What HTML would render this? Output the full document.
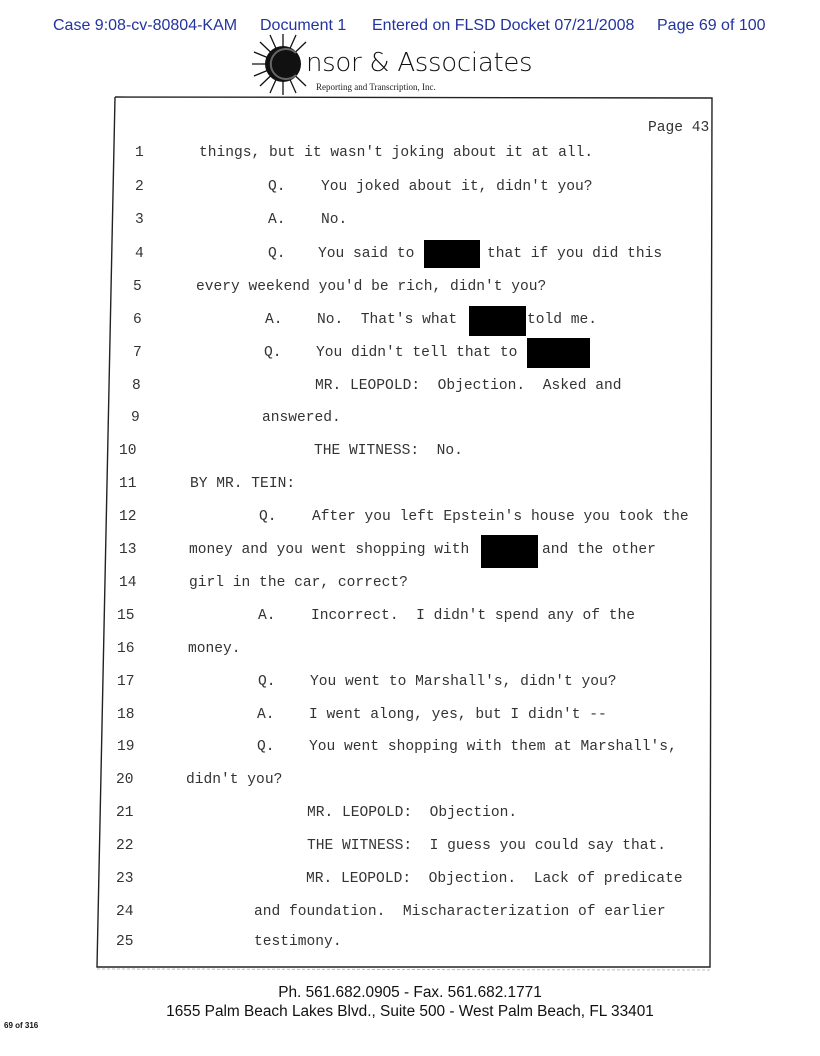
<!DOCTYPE html>
<html><head><meta charset="utf-8"><style>
html,body{margin:0;padding:0;background:#fff;}
body{width:820px;height:1056px;position:relative;overflow:hidden;font-family:"Liberation Sans",sans-serif;}
.h{position:absolute;top:17px;font-size:16px;color:#2233a0;white-space:nowrap;}
.m{position:absolute;font-family:"Liberation Mono",monospace;font-size:14.6px;color:#333;white-space:nowrap;line-height:18px;}
.r{position:absolute;background:#000;}
.f{position:absolute;left:0;width:820px;text-align:center;font-size:15.4px;color:#111;white-space:nowrap;}
</style></head><body>
<div class="h" style="left:53px">Case 9:08-cv-80804-KAM</div>
<div class="h" style="left:260px">Document 1</div>
<div class="h" style="left:372px">Entered on FLSD Docket 07/21/2008</div>
<div class="h" style="left:657px">Page 69 of 100</div>

<svg style="position:absolute;left:0;top:0" width="820" height="1056">
<g stroke="#111" stroke-width="1.3">
<line x1="283" y1="64" x2="283" y2="34"/><line x1="283" y1="64" x2="283" y2="95"/>
<line x1="283" y1="64" x2="252" y2="64"/><line x1="283" y1="64" x2="260" y2="42"/>
<line x1="283" y1="64" x2="260" y2="86"/><line x1="283" y1="64" x2="306" y2="42"/>
<line x1="283" y1="64" x2="306" y2="86"/><line x1="283" y1="64" x2="270" y2="35"/>
<line x1="283" y1="64" x2="296" y2="35"/><line x1="283" y1="64" x2="254" y2="52"/>
<line x1="283" y1="64" x2="254" y2="76"/><line x1="283" y1="64" x2="270" y2="93"/>
<line x1="283" y1="64" x2="296" y2="93"/>
</g>
<circle cx="283" cy="64" r="18" fill="#111"/>
<path d="M296 53 a15 15 0 1 0 0 22" stroke="#666" stroke-width="2" fill="none"/>
<polyline points="115,97 712,98 710,967 97,967 115,97" fill="none" stroke="#222" stroke-width="1.4"/>
<line x1="97" y1="969" x2="712" y2="970" stroke="#bbb" stroke-width="1" stroke-dasharray="3,2"/>
</svg>
<div style="position:absolute;left:306px;top:48px;font-size:26px;color:#111;font-family:'DejaVu Sans','Liberation Sans',sans-serif;font-weight:200;letter-spacing:-0.3px;white-space:nowrap;line-height:30px">nsor &amp; Associates</div>
<div style="position:absolute;left:316px;top:82px;font-size:9px;font-family:'Liberation Serif',serif;color:#222;white-space:nowrap">Reporting and Transcription, Inc.</div>

<div class="m" style="left:648px;top:119px">Page 43</div>

<div class="m" style="left:135px;top:144px">1</div><div class="m" style="left:199px;top:144px">things, but it wasn't joking about it at all.</div>
<div class="m" style="left:135px;top:178px">2</div><div class="m" style="left:268px;top:178px">Q.</div><div class="m" style="left:321px;top:178px">You joked about it, didn't you?</div>
<div class="m" style="left:135px;top:211px">3</div><div class="m" style="left:268px;top:211px">A.</div><div class="m" style="left:321px;top:211px">No.</div>
<div class="m" style="left:135px;top:245px">4</div><div class="m" style="left:268px;top:245px">Q.</div><div class="m" style="left:318px;top:245px">You said to</div><div class="r" style="left:424px;top:240px;width:56px;height:28px"></div><div class="m" style="left:487px;top:245px">that if you did this</div>
<div class="m" style="left:133px;top:278px">5</div><div class="m" style="left:196px;top:278px">every weekend you'd be rich, didn't you?</div>
<div class="m" style="left:133px;top:311px">6</div><div class="m" style="left:265px;top:311px">A.</div><div class="m" style="left:317px;top:311px">No.&nbsp; That's what</div><div class="r" style="left:469px;top:306px;width:57px;height:30px"></div><div class="m" style="left:527px;top:311px">told me.</div>
<div class="m" style="left:133px;top:344px">7</div><div class="m" style="left:264px;top:344px">Q.</div><div class="m" style="left:316px;top:344px">You didn't tell that to</div><div class="r" style="left:527px;top:338px;width:63px;height:30px"></div>
<div class="m" style="left:132px;top:377px">8</div><div class="m" style="left:315px;top:377px">MR. LEOPOLD:&nbsp; Objection.&nbsp; Asked and</div>
<div class="m" style="left:131px;top:409px">9</div><div class="m" style="left:262px;top:409px">answered.</div>
<div class="m" style="left:119px;top:442px">10</div><div class="m" style="left:314px;top:442px">THE WITNESS:&nbsp; No.</div>
<div class="m" style="left:119px;top:475px">11</div><div class="m" style="left:190px;top:475px">BY MR. TEIN:</div>
<div class="m" style="left:119px;top:508px">12</div><div class="m" style="left:259px;top:508px">Q.</div><div class="m" style="left:312px;top:508px">After you left Epstein's house you took the</div>
<div class="m" style="left:119px;top:541px">13</div><div class="m" style="left:189px;top:541px">money and you went shopping with</div><div class="r" style="left:481px;top:535px;width:57px;height:33px"></div><div class="m" style="left:542px;top:541px">and the other</div>
<div class="m" style="left:119px;top:574px">14</div><div class="m" style="left:189px;top:574px">girl in the car, correct?</div>
<div class="m" style="left:117px;top:607px">15</div><div class="m" style="left:258px;top:607px">A.</div><div class="m" style="left:311px;top:607px">Incorrect.&nbsp; I didn't spend any of the</div>
<div class="m" style="left:117px;top:640px">16</div><div class="m" style="left:188px;top:640px">money.</div>
<div class="m" style="left:117px;top:673px">17</div><div class="m" style="left:258px;top:673px">Q.</div><div class="m" style="left:310px;top:673px">You went to Marshall's, didn't you?</div>
<div class="m" style="left:117px;top:706px">18</div><div class="m" style="left:257px;top:706px">A.</div><div class="m" style="left:309px;top:706px">I went along, yes, but I didn't --</div>
<div class="m" style="left:117px;top:738px">19</div><div class="m" style="left:257px;top:738px">Q.</div><div class="m" style="left:309px;top:738px">You went shopping with them at Marshall's,</div>
<div class="m" style="left:116px;top:771px">20</div><div class="m" style="left:186px;top:771px">didn't you?</div>
<div class="m" style="left:116px;top:804px">21</div><div class="m" style="left:307px;top:804px">MR. LEOPOLD:&nbsp; Objection.</div>
<div class="m" style="left:116px;top:837px">22</div><div class="m" style="left:307px;top:837px">THE WITNESS:&nbsp; I guess you could say that.</div>
<div class="m" style="left:116px;top:870px">23</div><div class="m" style="left:306px;top:870px">MR. LEOPOLD:&nbsp; Objection.&nbsp; Lack of predicate</div>
<div class="m" style="left:116px;top:903px">24</div><div class="m" style="left:254px;top:903px">and foundation.&nbsp; Mischaracterization of earlier</div>
<div class="m" style="left:116px;top:933px">25</div><div class="m" style="left:254px;top:933px">testimony.</div>

<div class="f" style="top:984px">Ph. 561.682.0905 - Fax. 561.682.1771</div>
<div class="f" style="top:1003px">1655 Palm Beach Lakes Blvd., Suite 500 - West Palm Beach, FL 33401</div>
<div style="position:absolute;left:4px;top:1021px;font-size:8px;font-weight:bold;color:#111">69 of 316</div>
</body></html>
